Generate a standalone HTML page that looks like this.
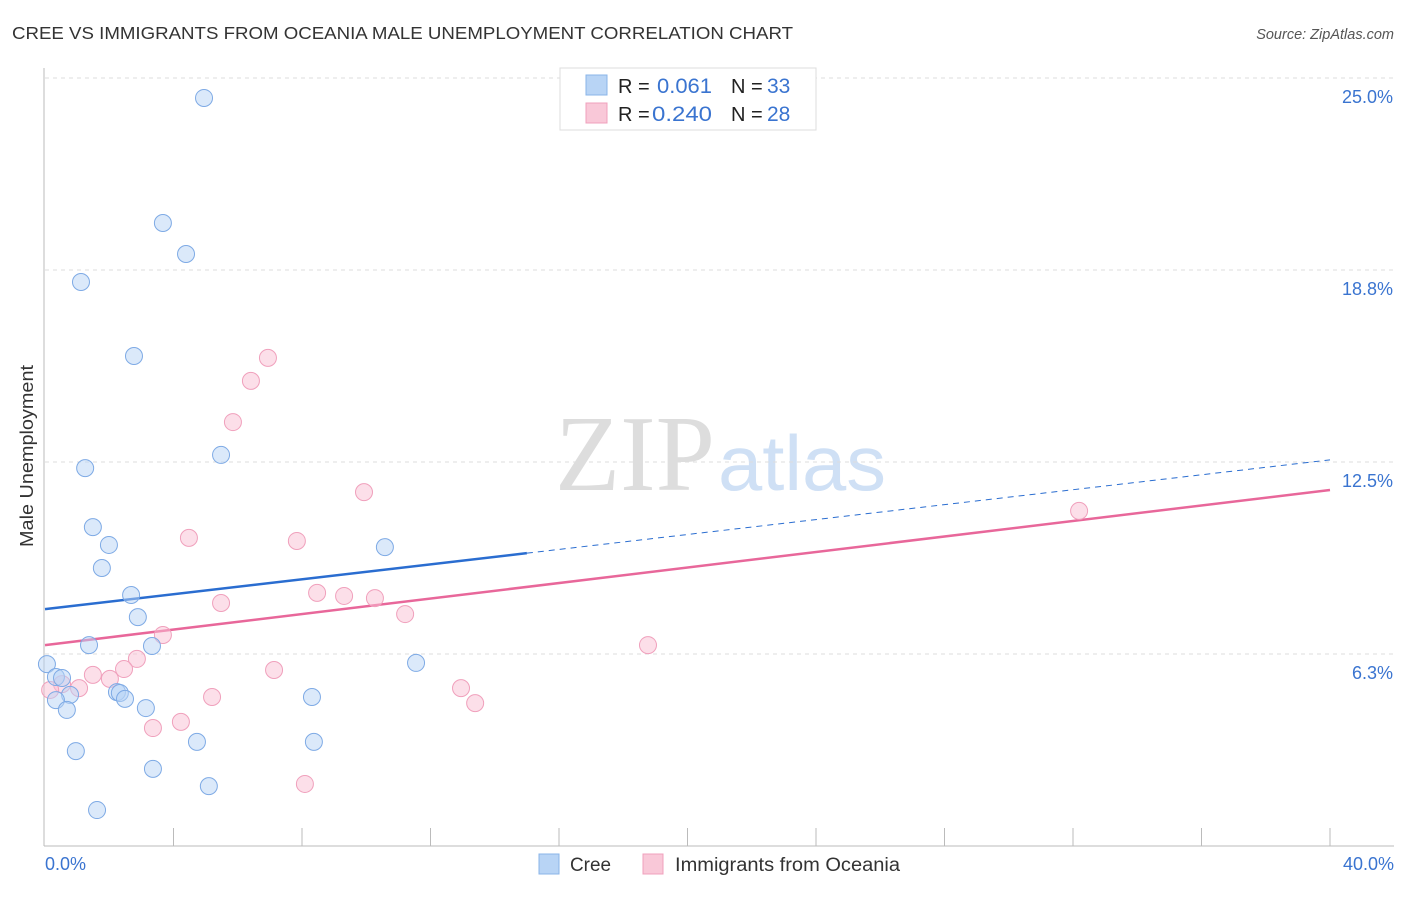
<!DOCTYPE html>
<html><head><meta charset="utf-8">
<style>
body{margin:0;background:#fff;font-family:"Liberation Sans",sans-serif;}
svg text{font-family:"Liberation Sans",sans-serif;}
</style></head>
<body>
<svg id="chart" width="1406" height="892" xmlns="http://www.w3.org/2000/svg">
<text x="12" y="39" font-size="17.5" fill="#333" textLength="781" lengthAdjust="spacingAndGlyphs">CREE VS IMMIGRANTS FROM OCEANIA MALE UNEMPLOYMENT CORRELATION CHART</text>
<text x="1394" y="39" font-size="14.5" fill="#555" font-style="italic" text-anchor="end">Source: ZipAtlas.com</text>
<text transform="translate(33,456) rotate(-90)" font-size="18" fill="#333" text-anchor="middle" textLength="182" lengthAdjust="spacingAndGlyphs">Male Unemployment</text>
<g>
<text x="635" y="490" font-size="108" fill="#ddd" text-anchor="middle" textLength="160" lengthAdjust="spacingAndGlyphs" style="font-family:'Liberation Serif',serif">ZIP</text>
<text x="802" y="490" font-size="78" fill="#cfe0f5" text-anchor="middle" textLength="168" lengthAdjust="spacingAndGlyphs">atlas</text>
</g>
<g id="grid"></g>
<g id="axes"></g>
<g id="trends"></g>
<g id="points"></g>
<g>
<rect x="560" y="68" width="256" height="62" fill="#fff" stroke="#ddd"/>
<rect x="586" y="75" width="21" height="20" fill="#b8d4f5" stroke="#8ab4e8"/>
<rect x="586" y="103" width="21" height="20" fill="#f9c8d8" stroke="#f0a0bc"/>
<text x="618" y="93" font-size="20" fill="#222">R = </text><text x="657" y="93" font-size="21" fill="#3a74d0" textLength="55" lengthAdjust="spacingAndGlyphs">0.061</text>
<text x="731" y="93" font-size="20" fill="#222">N = </text><text x="767" y="93" font-size="21" fill="#3a74d0">33</text>
<text x="618" y="121" font-size="20" fill="#222">R = </text><text x="652" y="121" font-size="21" fill="#3a74d0" textLength="60" lengthAdjust="spacingAndGlyphs">0.240</text>
<text x="731" y="121" font-size="20" fill="#222">N = </text><text x="767" y="121" font-size="21" fill="#3a74d0">28</text>
</g>
<g>
<rect x="539" y="854" width="20" height="20" fill="#b8d4f5" stroke="#8ab4e8"/>
<text x="570" y="871" font-size="19" fill="#333" textLength="41" lengthAdjust="spacingAndGlyphs">Cree</text>
<rect x="643" y="854" width="20" height="20" fill="#f9c8d8" stroke="#f0a0bc"/>
<text x="675" y="871" font-size="19" fill="#333" textLength="225" lengthAdjust="spacingAndGlyphs">Immigrants from Oceania</text>
</g>
</svg>
<script>
const yTicks=[6.25,12.5,18.75,25];
const yTickLabels=["6.3%","12.5%","18.8%","25.0%"];
const xTickLabels=["0.0%","40.0%"];
const creeX=[4.95,3.67,4.39,1.12,2.77,1.25,5.48,1.49,1.99,1.77,10.58,2.68,2.89,1.37,3.33,0.06,11.55,0.34,0.53,2.24,2.33,2.49,0.78,0.34,0.68,3.14,8.31,4.73,8.37,0.96,3.36,5.1,1.62];
const creeY=[24.35,20.28,19.27,18.36,15.95,12.30,12.73,10.38,9.80,9.05,9.73,8.17,7.45,6.54,6.51,5.92,5.96,5.50,5.47,5.01,4.98,4.79,4.92,4.75,4.43,4.49,4.85,3.39,3.39,3.09,2.51,1.95,1.17];
const oceX=[6.94,6.41,5.85,9.93,4.48,7.84,5.48,8.47,9.31,10.27,11.21,3.67,2.86,2.46,7.13,1.49,2.02,0.53,1.06,5.20,0.16,12.95,13.39,4.23,3.36,8.09,18.77,32.19];
const oceY=[15.89,15.14,13.80,11.52,10.03,9.93,7.91,8.24,8.14,8.07,7.55,6.87,6.09,5.76,5.73,5.57,5.44,5.27,5.14,4.85,5.08,5.14,4.65,4.04,3.84,2.02,6.54,10.91];
const creeTrend=[7.71,12.57];
const oceTrend=[6.54,11.59];
const NS="http://www.w3.org/2000/svg";
const xs=v=>45+v*32.125, ys=v=>846-v*30.72;
function mk(t,a,p){const e=document.createElementNS(NS,t);for(const k in a)e.setAttribute(k,a[k]);p.appendChild(e);return e;}
const grid=document.getElementById('grid'),axes=document.getElementById('axes');
yTicks.forEach((t,i)=>{
 const l=mk('line',{x1:45,x2:1394,y1:ys(t),y2:ys(t),stroke:'#ddd','stroke-dasharray':'4,4'},grid);
 
 
 const tx=mk('text',{x:1393,y:ys(t)+25,'font-size':18,fill:'#3a74d0','text-anchor':'end'},axes);
 tx.textContent=yTickLabels[i];
 
 
});
mk('line',{x1:44,x2:44,y1:68,y2:846,stroke:'#bbb'},axes);
mk('line',{x1:44,x2:1394,y1:846,y2:846,stroke:'#bbb'},axes);
for(let i=1;i<=10;i++){const t=mk('line',{x1:xs(i*4),x2:xs(i*4),y1:828,y2:846,stroke:'#bbb'},axes);}
[[0,'start',45],[40,'end',1394]].forEach((d,i)=>{const t=mk('text',{x:d[2],y:870,'font-size':18,fill:'#3a74d0','text-anchor':d[1]},axes);t.textContent=xTickLabels[i];});
const tr=document.getElementById('trends');
const cAt=x=>creeTrend[0]+(creeTrend[1]-creeTrend[0])*x/40;
const l1=mk('line',{x1:xs(0),y1:ys(cAt(0)),x2:xs(15),y2:ys(cAt(15)),stroke:'#2a6dd0','stroke-width':2.5},tr);


const l2=mk('line',{x1:xs(15),y1:ys(cAt(15)),x2:xs(40),y2:ys(cAt(40)),stroke:'#2a6dd0','stroke-width':1,'stroke-dasharray':'6,5'},tr);


const l3=mk('line',{x1:xs(0),y1:ys(oceTrend[0]),x2:xs(40),y2:ys(oceTrend[1]),stroke:'#e8679a','stroke-width':2.5},tr);


const pts=document.getElementById('points');
oceX.forEach((x,i)=>{const c=mk('circle',{cx:xs(x),cy:ys(oceY[i]),r:8.5,fill:'rgba(249,192,211,0.5)',stroke:'#f0a0bc','stroke-width':1},pts);
 
 });
creeX.forEach((x,i)=>{const c=mk('circle',{cx:xs(x),cy:ys(creeY[i]),r:8.5,fill:'rgba(184,212,245,0.5)',stroke:'#7eaae5','stroke-width':1},pts);
 
 });
</script>
</body></html>
